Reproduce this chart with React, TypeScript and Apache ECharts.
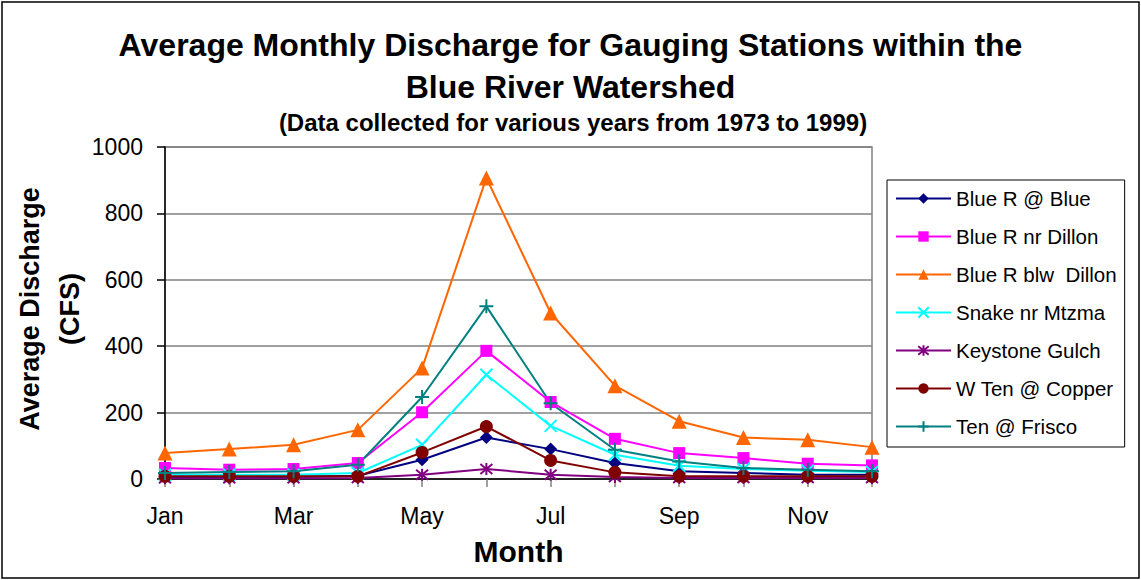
import React, { useEffect, useRef } from "react";
import * as echarts from "echarts";

const months = ["Jan", "Feb", "Mar", "Apr", "May", "Jun", "Jul", "Aug", "Sep", "Oct", "Nov", "Dec"];
const blueAtBlue = [6, 6, 6, 10, 58, 125, 90, 48, 23, 18, 13, 13];
const blueNrDillon = [33, 28, 30, 48, 201, 386, 232, 121, 78, 63, 46, 41];
const blueBlwDillon = [78, 90, 103, 148, 334, 907, 500, 281, 174, 125, 118, 96];
const snakeNrMtzma = [13, 13, 13, 18, 103, 314, 160, 73, 40, 30, 25, 21];
const keystoneGulch = [2, 2, 2, 3, 13, 30, 13, 6, 3, 3, 3, 3];
const wTenAtCopper = [8, 8, 8, 8, 80, 158, 56, 20, 8, 8, 8, 8];
const tenAtFrisco = [18, 21, 23, 43, 247, 520, 228, 88, 53, 33, 28, 23];

const X_PATH = "path://M0,0L10,10M10,0L0,10";
const STAR_PATH = "path://M0,0L10,10M10,0L0,10M5,-1L5,11";
const PLUS_PATH = "path://M5,0L5,10M0,5L10,5";

const seriesDefs = [
  { name: "Blue R @ Blue", data: blueAtBlue, color: "#000080", symbol: "diamond", size: 13, stroke: false },
  { name: "Blue R nr Dillon", data: blueNrDillon, color: "#FF00FF", symbol: "rect", size: 12, stroke: false },
  { name: "Blue R blw  Dillon", data: blueBlwDillon, color: "#FF6600", symbol: "triangle", size: 15, stroke: false },
  { name: "Snake nr Mtzma", data: snakeNrMtzma, color: "#00FFFF", symbol: X_PATH, size: 12, stroke: true },
  { name: "Keystone Gulch", data: keystoneGulch, color: "#800080", symbol: STAR_PATH, size: 12, stroke: true },
  { name: "W Ten @ Copper", data: wTenAtCopper, color: "#800000", symbol: "circle", size: 13, stroke: false },
  { name: "Ten @ Frisco", data: tenAtFrisco, color: "#008080", symbol: PLUS_PATH, size: 14, stroke: true },
];

export default function App() {
  const ref = useRef<HTMLDivElement>(null);
  useEffect(() => {
    document.body.style.margin = "0";
    const chart = echarts.init(ref.current!, null, { renderer: "svg" });
    const font = "Arial, 'Liberation Sans', sans-serif";
    chart.setOption({
      animation: false,
      backgroundColor: "#fff",
      textStyle: { fontFamily: font },
      title: [
        {
          text: "Average Monthly Discharge for Gauging Stations within the\nBlue River Watershed",
          left: "center",
          top: 24,
          padding: 0,
          textStyle: { fontSize: 32, fontWeight: "bold", color: "#000", lineHeight: 42, fontFamily: font },
        },
        {
          text: "(Data collected for various years from 1973 to 1999)",
          left: 573,
          textAlign: "center",
          top: 110,
          padding: 0,
          textStyle: { fontSize: 24, fontWeight: "bold", color: "#000", fontFamily: font },
        },
      ],
      grid: { left: 165, top: 147, right: 269, bottom: 101, show: true, borderColor: "#808080", borderWidth: 1.5 },
      legend: {
        orient: "vertical",
        left: 887,
        top: 180,
        itemWidth: 55,
        itemHeight: 13,
        itemGap: 17,
        padding: [8, 8, 10, 8],
        borderColor: "#000",
        borderWidth: 1,
        textStyle: { fontSize: 20.5, color: "#000", fontFamily: font },
        data: seriesDefs.map((s) => s.name),
      },
      xAxis: {
        type: "category",
        data: months,
        boundaryGap: false,
        axisLine: { lineStyle: { color: "#000", width: 1.5 } },
        axisTick: { show: true, interval: 0, length: 8, lineStyle: { color: "#808080", width: 1.5 } },
        axisLabel: { interval: 1, fontSize: 23, color: "#000", margin: 25, fontFamily: font },
        name: "Month",
        nameLocation: "middle",
        nameGap: 57,
        nameTextStyle: { fontSize: 30, fontWeight: "bold", color: "#000", fontFamily: font },
      },
      yAxis: {
        type: "value",
        min: 0,
        max: 1000,
        interval: 200,
        axisLine: { show: true, lineStyle: { color: "#000", width: 1.5 } },
        axisTick: { show: true, length: 8, lineStyle: { color: "#000", width: 1.5 } },
        axisLabel: { fontSize: 23, color: "#000", margin: 22, fontFamily: font, formatter: (v: number) => String(v) },
        splitLine: { lineStyle: { color: "#808080", width: 1.5 } },
      },
      graphic: [
        {
          type: "rect",
          shape: { x: 2, y: 2, width: 1137, height: 576 },
          style: { fill: "none", stroke: "#000", lineWidth: 1.5 },
          silent: true,
        },
        {
          type: "text",
          x: 50,
          y: 309,
          rotation: Math.PI / 2,
          style: {
            text: "Average Discharge\n(CFS)",
            fontSize: 27,
            fontWeight: "bold",
            fontFamily: font,
            fill: "#000",
            lineHeight: 40,
            align: "center",
            verticalAlign: "middle",
          },
        },
      ],
      series: seriesDefs.map((s) => ({
        name: s.name,
        type: "line",
        data: s.data,
        symbol: s.symbol,
        symbolSize: s.size,
        lineStyle: { color: s.color, width: 2 },
        itemStyle: s.stroke
          ? { color: s.color, borderColor: s.color, borderWidth: 2 }
          : { color: s.color, borderWidth: 0 },
        emphasis: { disabled: true },
      })),
    });
    return () => chart.dispose();
  }, []);
  return <div ref={ref} style={{ width: 1141, height: 580 }} />;
}
